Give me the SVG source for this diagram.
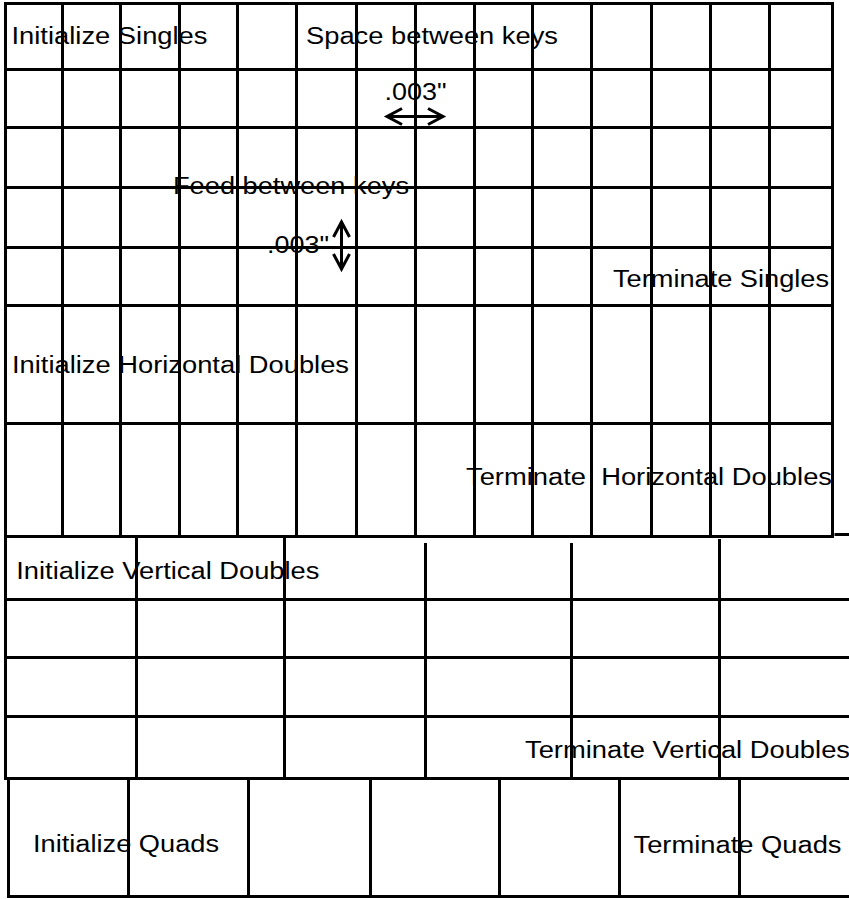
<svg xmlns="http://www.w3.org/2000/svg" width="849" height="899" viewBox="0 0 849 899">
<style>
  .g line { stroke: #000; stroke-width: 3; stroke-linecap: butt; }
  .t { font-family: "Liberation Sans", Arial, sans-serif; font-size: 23.5px; fill: #000; white-space: pre; }
  .arr { stroke: #000; stroke-width: 3; fill: none; marker-start: url(#head); marker-end: url(#head); }
</style>
<defs>
  <marker id="head" markerUnits="userSpaceOnUse" markerWidth="20" markerHeight="20" refX="0" refY="0" orient="auto-start-reverse" overflow="visible">
    <path d="M -15 -8 L 0 0 L -15 8" fill="none" stroke="#000" stroke-width="3" stroke-linejoin="miter"/>
  </marker>
</defs>
<rect width="849" height="899" fill="#fff"/>

<g id="grid-singles" class="g">
  <line x1="4" y1="3.5" x2="834" y2="3.5"/>
  <line x1="5.5" y1="69.5" x2="832.5" y2="69.5"/>
  <line x1="5.5" y1="127.5" x2="832.5" y2="127.5"/>
  <line x1="5.5" y1="187.5" x2="832.5" y2="187.5"/>
  <line x1="5.5" y1="247.5" x2="832.5" y2="247.5"/>
  <line x1="5.5" y1="305.5" x2="832.5" y2="305.5"/>
  <line x1="5.5" y1="423.5" x2="832.5" y2="423.5"/>
  <line x1="4" y1="536.5" x2="834" y2="536.5"/>
  <line x1="834.5" y1="534.5" x2="849" y2="534.5"/>
  <line x1="5.5" y1="3.5" x2="5.5" y2="536.5"/>
  <line x1="62.5" y1="3.5" x2="62.5" y2="536.5"/>
  <line x1="120.5" y1="3.5" x2="120.5" y2="536.5"/>
  <line x1="179.5" y1="3.5" x2="179.5" y2="536.5"/>
  <line x1="237.5" y1="3.5" x2="237.5" y2="536.5"/>
  <line x1="296.5" y1="3.5" x2="296.5" y2="536.5"/>
  <line x1="356.5" y1="3.5" x2="356.5" y2="536.5"/>
  <line x1="415.5" y1="3.5" x2="415.5" y2="536.5"/>
  <line x1="474.5" y1="3.5" x2="474.5" y2="536.5"/>
  <line x1="532.5" y1="3.5" x2="532.5" y2="536.5"/>
  <line x1="591.5" y1="3.5" x2="591.5" y2="536.5"/>
  <line x1="651.5" y1="3.5" x2="651.5" y2="536.5"/>
  <line x1="710.5" y1="3.5" x2="710.5" y2="536.5"/>
  <line x1="769.5" y1="3.5" x2="769.5" y2="536.5"/>
  <line x1="832.5" y1="3.5" x2="832.5" y2="536.5"/>
</g>

<g id="grid-vertical-doubles" class="g">
  <line x1="5.5" y1="536.5" x2="5.5" y2="778.5"/>
  <line x1="136.5" y1="536.5" x2="136.5" y2="778.5"/>
  <line x1="284.5" y1="536.5" x2="284.5" y2="778.5"/>
  <line x1="425.5" y1="543" x2="425.5" y2="778.5"/>
  <line x1="571.5" y1="543" x2="571.5" y2="778.5"/>
  <line x1="719.5" y1="539" x2="719.5" y2="778.5"/>
  <line x1="5.5" y1="599.5" x2="849" y2="599.5"/>
  <line x1="5.5" y1="657.5" x2="849" y2="657.5"/>
  <line x1="5.5" y1="716.5" x2="849" y2="716.5"/>
  <line x1="4" y1="778.5" x2="849" y2="778.5"/>
</g>

<g id="grid-quads" class="g">
  <line x1="8.5" y1="778.5" x2="8.5" y2="896.5"/>
  <line x1="128.5" y1="778.5" x2="128.5" y2="896.5"/>
  <line x1="248.5" y1="778.5" x2="248.5" y2="896.5"/>
  <line x1="370.5" y1="778.5" x2="370.5" y2="896.5"/>
  <line x1="499.5" y1="778.5" x2="499.5" y2="896.5"/>
  <line x1="619.5" y1="778.5" x2="619.5" y2="896.5"/>
  <line x1="739.5" y1="778.5" x2="739.5" y2="896.5"/>
  <line x1="7" y1="896.5" x2="849" y2="896.5"/>
</g>

<g id="connectors">
  <line class="arr" x1="387" y1="116.5" x2="443" y2="116.5"/>
  <line class="arr" x1="341.5" y1="222" x2="341.5" y2="269"/>
</g>

<g id="label-init-singles"><text class="t" x="11.5" y="43.5" textLength="196" lengthAdjust="spacingAndGlyphs">Initialize Singles</text></g>
<g id="label-space"><text class="t" x="306" y="43.5" textLength="252" lengthAdjust="spacingAndGlyphs">Space between keys</text></g>
<g id="label-space-dim"><text class="t" x="384.5" y="100" textLength="62" lengthAdjust="spacingAndGlyphs">.003"</text></g>
<g id="label-feed"><text class="t" x="173" y="193.5" textLength="236" lengthAdjust="spacingAndGlyphs">Feed between keys</text></g>
<g id="label-feed-dim"><text class="t" x="267" y="252.7" textLength="62" lengthAdjust="spacingAndGlyphs">.003"</text></g>
<g id="label-term-singles"><text class="t" x="613" y="286.7" textLength="216" lengthAdjust="spacingAndGlyphs">Terminate Singles</text></g>
<g id="label-init-hdoubles"><text class="t" x="12" y="372.7" textLength="337" lengthAdjust="spacingAndGlyphs">Initialize Horizontal Doubles</text></g>
<g id="label-term-hdoubles"><text class="t" x="466" y="485" textLength="366" lengthAdjust="spacingAndGlyphs" xml:space="preserve">Terminate  Horizontal Doubles</text></g>
<g id="label-init-vdoubles"><text class="t" x="16.3" y="579.3" textLength="303" lengthAdjust="spacingAndGlyphs">Initialize Vertical Doubles</text></g>
<g id="label-term-vdoubles"><text class="t" x="525" y="758.3" textLength="325" lengthAdjust="spacingAndGlyphs">Terminate Vertical Doubles</text></g>
<g id="label-init-quads"><text class="t" x="33" y="851.7" textLength="186" lengthAdjust="spacingAndGlyphs">Initialize Quads</text></g>
<g id="label-term-quads"><text class="t" x="633.5" y="853.3" textLength="208" lengthAdjust="spacingAndGlyphs">Terminate Quads</text></g>
</svg>
